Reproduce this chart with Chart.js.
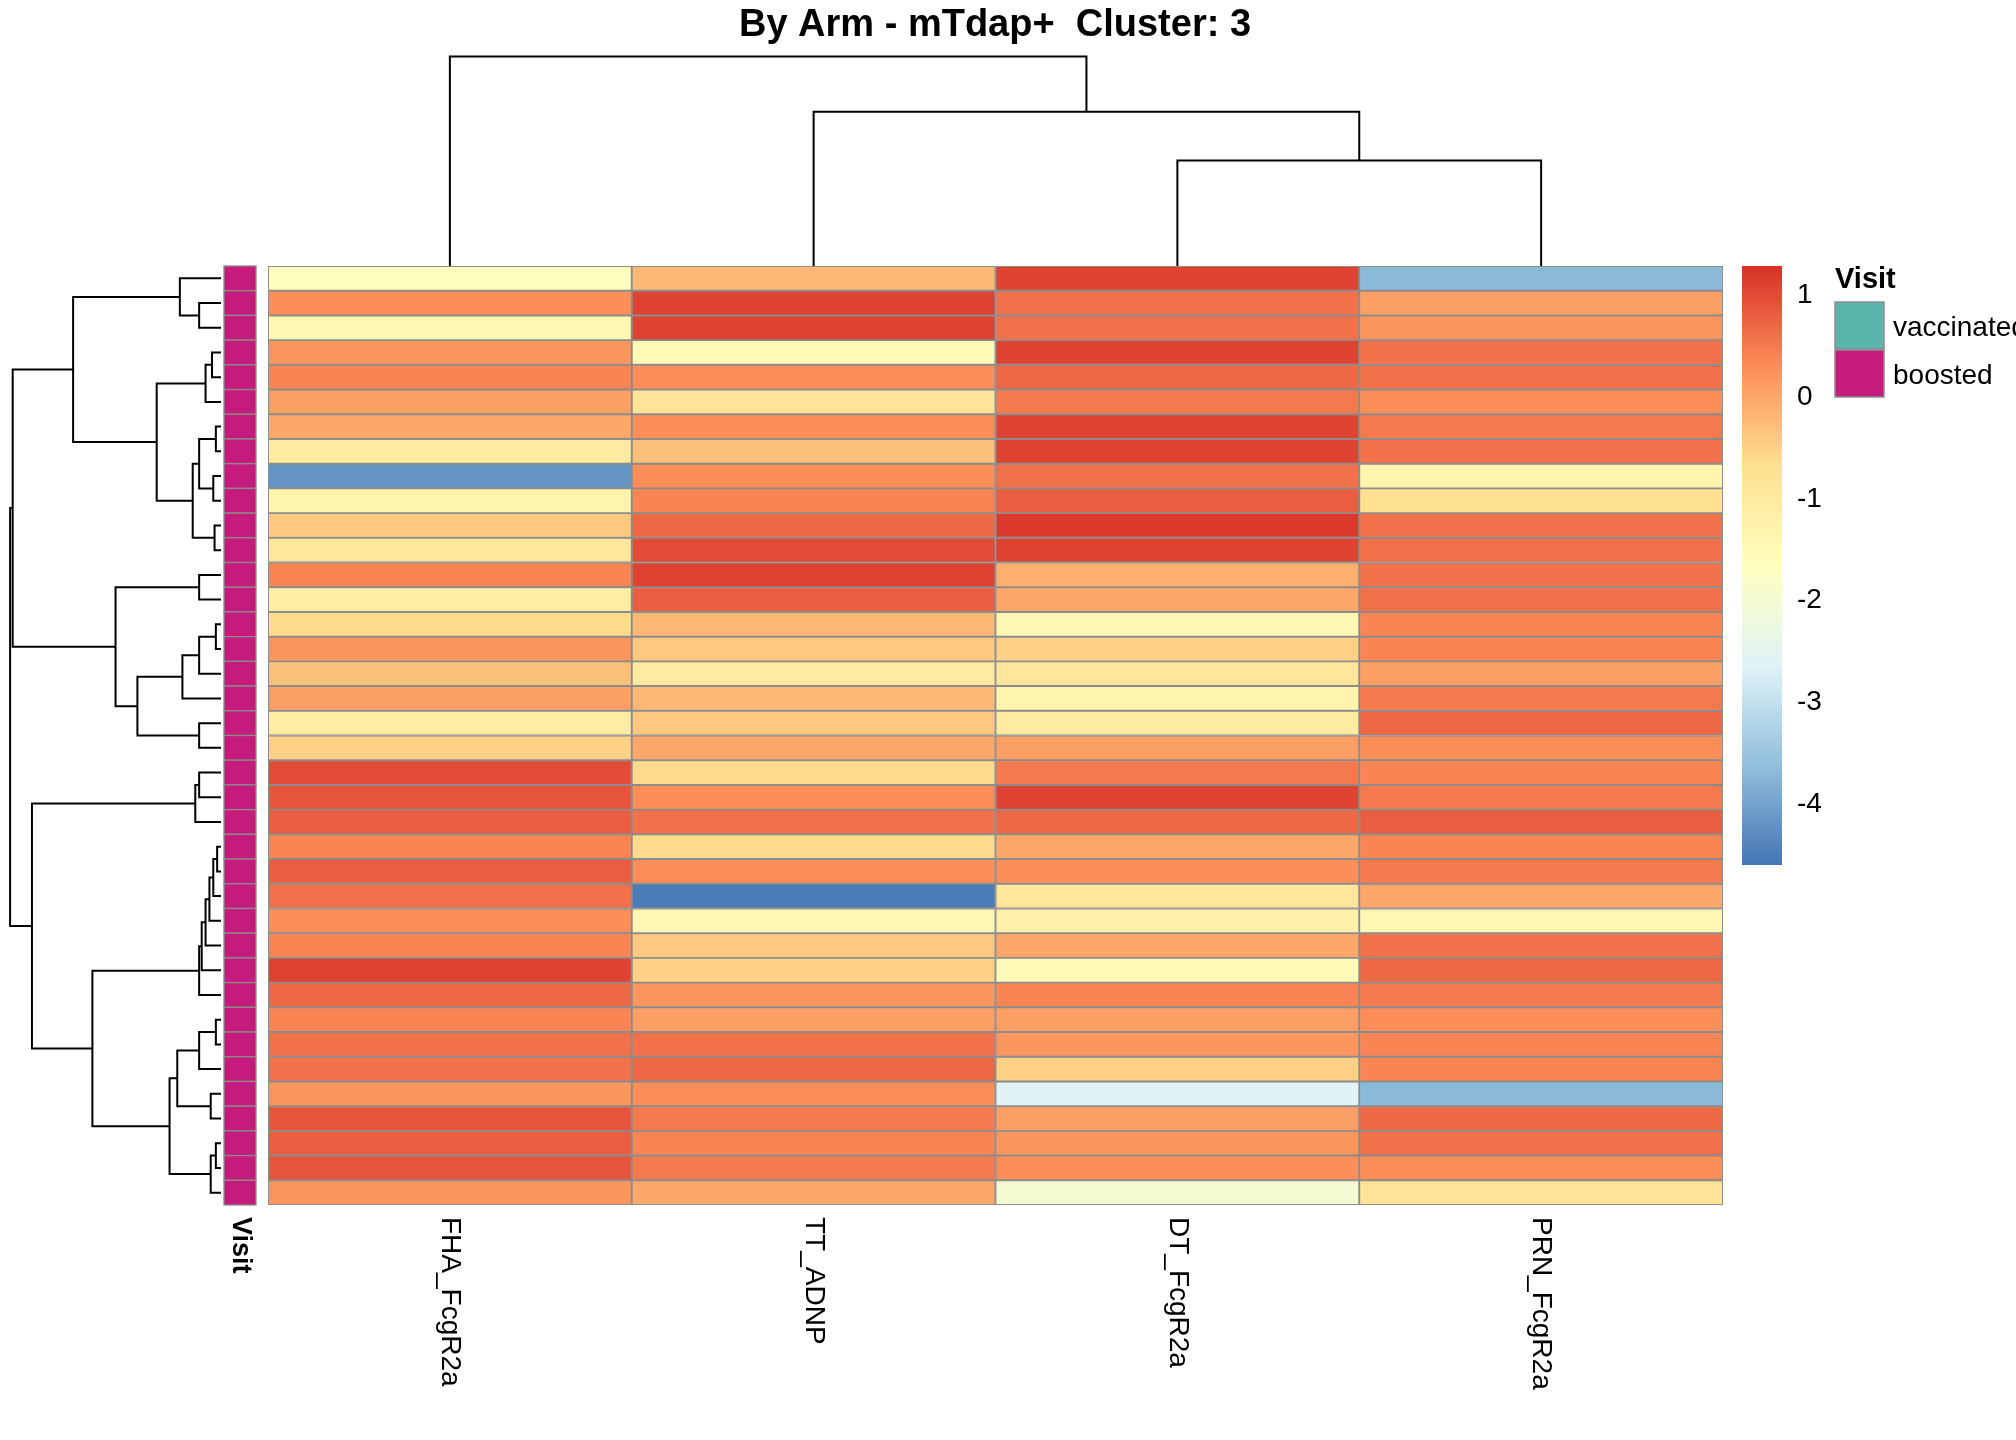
<!DOCTYPE html>
<html><head><meta charset="utf-8">
<script src="https://cdn.jsdelivr.net/npm/chart.js@4"></script>
<style>html,body{margin:0;padding:0;background:#fff}#wrap{width:2016px;height:1440px;position:relative}</style>
</head><body><div id="wrap"><canvas id="c" width="2016" height="1440" style="width:2016px;height:1440px"></canvas></div>
<script>
const columns = ["FHA_FcgR2a","TT_ADNP","DT_FcgR2a","PRN_FcgR2a"];
const FHA = [-1.6,0.3,-1.4,0.2,0.4,0.1,0.0,-1.0,-4.2,-1.3,-0.4,-0.9,0.4,-1.1,-0.6,0.2,-0.3,0.1,-1.1,-0.5,1.0,0.9,0.8,0.4,0.8,0.6,0.3,0.4,1.1,0.7,0.4,0.6,0.6,0.2,0.9,0.8,0.9,0.2];
const TT  = [-0.2,1.1,1.1,-1.5,0.3,-0.8,0.3,-0.3,0.3,0.4,0.7,1.0,1.1,0.8,-0.2,-0.4,-1.0,-0.2,-0.4,0.0,-0.6,0.3,0.6,-0.6,0.3,-4.5,-1.4,-0.4,-0.5,0.2,0.1,0.6,0.7,0.3,0.5,0.4,0.5,0.0];
const DT  = [1.1,0.6,0.6,1.1,0.7,0.5,1.1,1.1,0.6,0.8,1.2,1.1,-0.1,0.0,-1.4,-0.5,-0.9,-1.3,-1.0,0.1,0.5,1.1,0.7,0.0,0.3,-0.9,-1.2,0.0,-1.5,0.4,0.1,0.2,-0.5,-2.6,0.1,0.2,0.3,-2.0];
const PRN = [-3.7,0.1,0.2,0.6,0.6,0.3,0.5,0.6,-1.3,-0.7,0.6,0.6,0.6,0.6,0.4,0.4,0.1,0.5,0.7,0.3,0.4,0.5,0.8,0.4,0.5,0.0,-1.4,0.6,0.7,0.5,0.3,0.4,0.4,-3.7,0.7,0.6,0.3,-0.8];
const visit = Array(38).fill("boosted");
const legendTicks = [1,0,-1,-2,-3,-4];
const title = "By Arm - mTdap+  Cluster: 3";

const VMIN=-4.6, VMAX=1.29;
const pal=["#4575B4","#91BFDB","#E0F3F8","#FFFFBF","#FEE090","#FC8D59","#D73027"];
function hex(h){return [1,3,5].map(i=>parseInt(h.substr(i,2),16));}
function colorOf(v){let t=(v-VMIN)/(VMAX-VMIN)*6;t=Math.max(0,Math.min(6,t));const i=Math.min(5,Math.floor(t)),f=t-i;const a=hex(pal[i]),b=hex(pal[i+1]);return `rgb(${a.map((x,k)=>Math.round(x+(b[k]-x)*f)).join(",")})`;}
const matrix=[FHA,TT,DT,PRN];
const nRows=FHA.length;
const datasets=[];
for(let r=0;r<nRows;r++){datasets.push({data:columns.map(()=>1),backgroundColor:matrix.map(col=>colorOf(col[r])),borderColor:"#8c8c8c",borderWidth:1.3,borderSkipped:false,barPercentage:1,categoryPercentage:1,stack:"s"});}

const a1=[17,1,2],a2=[32,0,a1],b1=[7,3,4],b2=[12,b1,5],c1=[4,6,7],c2=[6,8,9],c3=[17,c1,c2],c4=[5,10,11],c5=[22,c3,c4],b3=[50,b2,c5],A=[115,a2,b3];
const d1=[17,12,13],e1=[4,14,15],e2=[17,e1,16],e3=[30,e2,17],f1=[17,18,19],e4=[65,e3,f1],B=[82,d1,e4];
const g1=[17,20,21],g2=[20,g1,22],h1=[3,23,24],h2=[6,h1,25],h3=[9,h2,26],h4=[12,h3,27],h5=[15,h4,28],h6=[17,h5,29];
const j1=[4,30,31],j2=[17,j1,32],j3=[8,33,34],j4=[34,j2,j3],k1=[4,35,36],k2=[8,k1,37],j5=[40,j4,k2],h7=[100,h6,j5],C=[147,g2,h7];
const AB=[162,A,B],rowTree=[164,AB,C];
const colTree=[163,0,[120,1,[82,2,3]]];

const S=1.286;
const plugin={id:"extras",afterDraw(ch){
  const ctx=ch.ctx,xs=ch.scales.x,ys=ch.scales.y,ca=ch.chartArea;
  const rowY=i=>ys.getPixelForValue(i+0.5), colX=i=>xs.getPixelForValue(i);
  ctx.save();ctx.strokeStyle="#000";ctx.lineWidth=2;
  function drawTree(node,posFn,horiz,base){
    if(typeof node==="number")return [posFn(node),0];
    const L=drawTree(node[1],posFn,horiz,base),R=drawTree(node[2],posFn,horiz,base);
    const h=node[0]*S;
    ctx.strokeStyle="#000";ctx.lineWidth=2;
    ctx.beginPath();
    if(horiz){
      ctx.moveTo(base-L[1],L[0]);ctx.lineTo(base-h,L[0]);ctx.lineTo(base-h,R[0]);ctx.lineTo(base-R[1],R[0]);
    }else{
      ctx.moveTo(L[0],base-L[1]);ctx.lineTo(L[0],base-h);ctx.lineTo(R[0],base-h);ctx.lineTo(R[0],base-R[1]);
    }
    ctx.stroke();return [(L[0]+R[0])/2,h];
  }
  drawTree(rowTree,rowY,true,221);
  drawTree(colTree,colX,false,ca.top);
  for(let r=0;r<nRows;r++){const y0=ys.getPixelForValue(r),y1=ys.getPixelForValue(r+1);
    ctx.fillStyle=visit[r]==="boosted"?"#C51B7D":"#5AB4AC";ctx.fillRect(224,y0,32,y1-y0);
    ctx.strokeStyle="#8c8c8c";ctx.lineWidth=1.3;ctx.strokeRect(224,y0,32,y1-y0);}
  ctx.fillStyle="#000";ctx.textAlign="left";ctx.textBaseline="middle";
  function vlabel(t,x,font){ctx.save();ctx.translate(x,ca.bottom+12);ctx.rotate(Math.PI/2);ctx.font=font;ctx.fillText(t,0,0);ctx.restore();}
  vlabel("Visit",240,"bold 27px 'Liberation Sans'");
  columns.forEach((c,i)=>vlabel(c,colX(i),"28px 'Liberation Sans'"));
  ctx.font="bold 38px 'Liberation Sans'";ctx.textAlign="center";ctx.textBaseline="middle";ctx.fillText(title,995,26);
  const cbTop=266,cbBot=865,cbX=1742,cbW=40;
  const g=ctx.createLinearGradient(0,cbBot,0,cbTop);pal.forEach((p,i)=>g.addColorStop(i/6,p));
  ctx.fillStyle=g;ctx.fillRect(cbX,cbTop,cbW,cbBot-cbTop);
  ctx.fillStyle="#000";ctx.font="28px 'Liberation Sans'";ctx.textAlign="left";
  legendTicks.forEach(t=>{const y=cbBot-(t-VMIN)/(VMAX-VMIN)*(cbBot-cbTop);ctx.fillText(String(t),1797,y);});
  ctx.font="bold 29px 'Liberation Sans'";ctx.fillText("Visit",1835,280);
  ctx.fillStyle="#5AB4AC";ctx.fillRect(1835,302,49,47);ctx.fillStyle="#C51B7D";ctx.fillRect(1835,350,49,47);
  ctx.strokeStyle="#8c8c8c";ctx.lineWidth=1.5;ctx.strokeRect(1835,302,49,47);ctx.strokeRect(1835,350,49,47);
  ctx.fillStyle="#000";ctx.font="28px 'Liberation Sans'";ctx.fillText("vaccinated",1893,328);ctx.fillText("boosted",1893,376);
  ctx.restore();
}};
new Chart(document.getElementById("c"),{type:"bar",data:{labels:columns,datasets},
 options:{responsive:false,animation:false,devicePixelRatio:1,
  layout:{padding:{left:268,top:266,right:2016-1723,bottom:1440-1205}},
  plugins:{legend:{display:false},tooltip:{enabled:false}},
  scales:{x:{stacked:true,display:false,offset:true},y:{stacked:true,display:false,min:0,max:nRows,reverse:true}}},
 plugins:[plugin]});
</script></body></html>
